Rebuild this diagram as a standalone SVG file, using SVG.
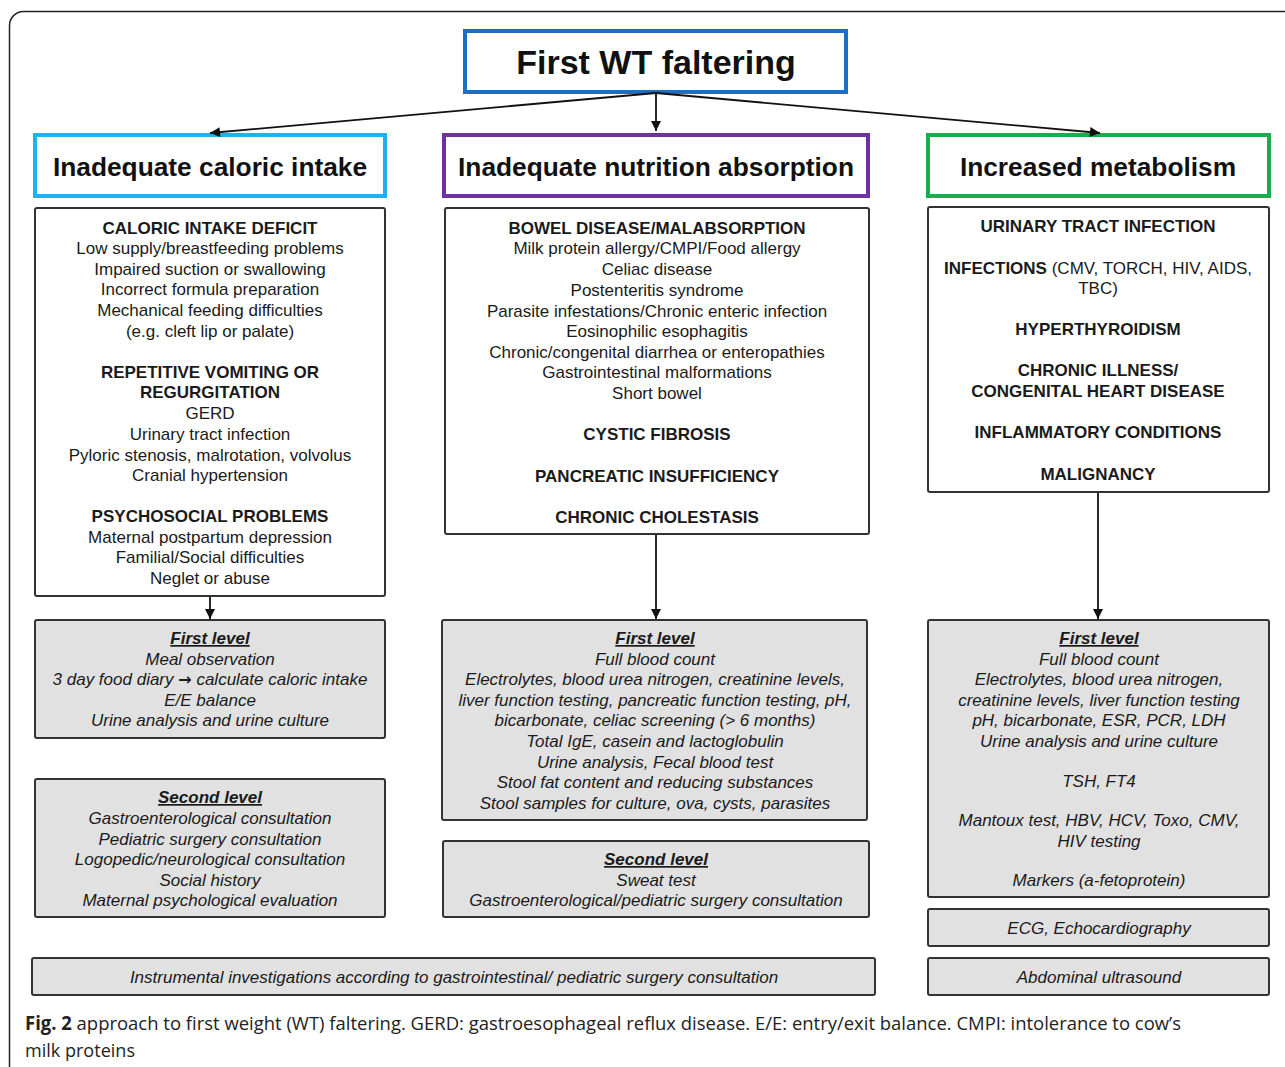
<svg xmlns="http://www.w3.org/2000/svg" width="1285" height="1067" viewBox="0 0 1285 1067">
<style>
text{font-family:"Liberation Sans",Arial,sans-serif;fill:#1a1a1a;text-anchor:middle}
.t{font-size:17px}
.b{font-weight:bold}
.i{font-style:italic}
.u{text-decoration:underline}
.head{font-size:26.3px;font-weight:bold;fill:#111}
.white{fill:#fff;stroke:#333;stroke-width:2}
.grey{fill:#e1e1e1;stroke:#333;stroke-width:2}
.conn{stroke:#111;stroke-width:1.8;fill:none}
.cap{font-family:"Open Sans","Liberation Sans",sans-serif;font-size:19px;text-anchor:start;fill:#222}
</style>
<defs>
<marker id="ah" viewBox="0 0 10 10" markerUnits="userSpaceOnUse" markerWidth="11" markerHeight="10" refX="10" refY="5" orient="auto">
<path d="M0,0 L10,5 L0,10 z" fill="#111"/>
</marker>
</defs>
<rect x="0" y="0" width="1285" height="1067" fill="#fff"/>
<rect x="9.5" y="11.5" width="1300" height="1080" rx="14" fill="none" stroke="#222" stroke-width="1.5"/>

<g id="title">
<rect x="465" y="31" width="381" height="61" fill="#fff" stroke="#1b6ec2" stroke-width="4"/>
<text x="656" y="74" style="font-size:34px;font-weight:bold;fill:#111">First WT faltering</text>
</g>

<g id="head1">
<rect x="35" y="135" width="350" height="61" fill="#fff" stroke="#1fb0ee" stroke-width="4"/>
<text class="head" x="210" y="176">Inadequate caloric intake</text>
</g>
<g id="head2">
<rect x="444" y="135" width="424" height="61" fill="#fff" stroke="#7031a0" stroke-width="4"/>
<text class="head" x="656" y="176">Inadequate nutrition absorption</text>
</g>
<g id="head3">
<rect x="928" y="135" width="341" height="61" fill="#fff" stroke="#1dac4d" stroke-width="4"/>
<text class="head" x="1098" y="176">Increased metabolism</text>
</g>

<g id="causes1">
<rect class="white" x="35" y="208" width="350" height="388" rx="2"/>
<text class="t b" x="210" y="234">CALORIC INTAKE DEFICIT</text>
<text class="t" x="210" y="254">Low supply/breastfeeding problems</text>
<text class="t" x="210" y="275">Impaired suction or swallowing</text>
<text class="t" x="210" y="295">Incorrect formula preparation</text>
<text class="t" x="210" y="316">Mechanical feeding difficulties</text>
<text class="t" x="210" y="337">(e.g. cleft lip or palate)</text>
<text class="t b" x="210" y="378">REPETITIVE VOMITING OR</text>
<text class="t b" x="210" y="398">REGURGITATION</text>
<text class="t" x="210" y="419">GERD</text>
<text class="t" x="210" y="440">Urinary tract infection</text>
<text class="t" x="210" y="461">Pyloric stenosis, malrotation, volvolus</text>
<text class="t" x="210" y="481">Cranial hypertension</text>
<text class="t b" x="210" y="522">PSYCHOSOCIAL PROBLEMS</text>
<text class="t" x="210" y="543">Maternal postpartum depression</text>
<text class="t" x="210" y="563">Familial/Social difficulties</text>
<text class="t" x="210" y="584">Neglet or abuse</text>
</g>

<g id="causes2">
<rect class="white" x="445" y="208" width="424" height="326" rx="2"/>
<text class="t b" x="657" y="234">BOWEL DISEASE/MALABSORPTION</text>
<text class="t" x="657" y="254">Milk protein allergy/CMPI/Food allergy</text>
<text class="t" x="657" y="275">Celiac disease</text>
<text class="t" x="657" y="296">Postenteritis syndrome</text>
<text class="t" x="657" y="317">Parasite infestations/Chronic enteric infection</text>
<text class="t" x="657" y="337">Eosinophilic esophagitis</text>
<text class="t" x="657" y="358">Chronic/congenital diarrhea or enteropathies</text>
<text class="t" x="657" y="378">Gastrointestinal malformations</text>
<text class="t" x="657" y="399">Short bowel</text>
<text class="t b" x="657" y="440">CYSTIC FIBROSIS</text>
<text class="t b" x="657" y="482">PANCREATIC INSUFFICIENCY</text>
<text class="t b" x="657" y="523">CHRONIC CHOLESTASIS</text>
</g>

<g id="causes3">
<rect class="white" x="928" y="207" width="341" height="285" rx="2"/>
<text class="t b" x="1098" y="232">URINARY TRACT INFECTION</text>
<text class="t" x="1098" y="274"><tspan class="b">INFECTIONS</tspan> (CMV, TORCH, HIV, AIDS,</text>
<text class="t" x="1098" y="294">TBC)</text>
<text class="t b" x="1098" y="335">HYPERTHYROIDISM</text>
<text class="t b" x="1098" y="376">CHRONIC ILLNESS/</text>
<text class="t b" x="1098" y="397">CONGENITAL HEART DISEASE</text>
<text class="t b" x="1098" y="438">INFLAMMATORY CONDITIONS</text>
<text class="t b" x="1098" y="480">MALIGNANCY</text>
</g>

<g id="first1">
<rect class="grey" x="35" y="620" width="350" height="118" rx="2"/>
<text class="t i b u" x="210" y="644">First level</text>
<text class="t i" x="210" y="665">Meal observation</text>
<text class="t i" x="210" y="685">3 day food diary <tspan style="font-family:'DejaVu Sans',sans-serif;font-style:normal;font-weight:bold;font-size:16px">→</tspan> calculate caloric intake</text>
<text class="t i" x="210" y="706">E/E balance</text>
<text class="t i" x="210" y="726">Urine analysis and urine culture</text>
</g>

<g id="second1">
<rect class="grey" x="35" y="779" width="350" height="138" rx="2"/>
<text class="t i b u" x="210" y="803">Second level</text>
<text class="t i" x="210" y="824">Gastroenterological consultation</text>
<text class="t i" x="210" y="845">Pediatric surgery consultation</text>
<text class="t i" x="210" y="865">Logopedic/neurological consultation</text>
<text class="t i" x="210" y="886">Social history</text>
<text class="t i" x="210" y="906">Maternal psychological evaluation</text>
</g>

<g id="first2">
<rect class="grey" x="442" y="620" width="425" height="200" rx="2"/>
<text class="t i b u" x="655" y="644">First level</text>
<text class="t i" x="655" y="665">Full blood count</text>
<text class="t i" x="655" y="685">Electrolytes, blood urea nitrogen, creatinine levels,</text>
<text class="t i" x="655" y="706">liver function testing, pancreatic function testing, pH,</text>
<text class="t i" x="655" y="726">bicarbonate, celiac screening (&gt; 6 months)</text>
<text class="t i" x="655" y="747">Total IgE, casein and lactoglobulin</text>
<text class="t i" x="655" y="768">Urine analysis, Fecal blood test</text>
<text class="t i" x="655" y="788">Stool fat content and reducing substances</text>
<text class="t i" x="655" y="809">Stool samples for culture, ova, cysts, parasites</text>
</g>

<g id="second2">
<rect class="grey" x="443" y="841" width="426" height="76" rx="2"/>
<text class="t i b u" x="656" y="865">Second level</text>
<text class="t i" x="656" y="886">Sweat test</text>
<text class="t i" x="656" y="906">Gastroenterological/pediatric surgery consultation</text>
</g>

<g id="first3">
<rect class="grey" x="928" y="620" width="341" height="277" rx="2"/>
<text class="t i b u" x="1099" y="644">First level</text>
<text class="t i" x="1099" y="665">Full blood count</text>
<text class="t i" x="1099" y="685">Electrolytes, blood urea nitrogen,</text>
<text class="t i" x="1099" y="706">creatinine levels, liver function testing</text>
<text class="t i" x="1099" y="726">pH, bicarbonate, ESR, PCR, LDH</text>
<text class="t i" x="1099" y="747">Urine analysis and urine culture</text>
<text class="t i" x="1099" y="787">TSH, FT4</text>
<text class="t i" x="1099" y="826">Mantoux test, HBV, HCV, Toxo, CMV,</text>
<text class="t i" x="1099" y="847">HIV testing</text>
<text class="t i" x="1099" y="886">Markers (a-fetoprotein)</text>
</g>

<g id="ecg">
<rect class="grey" x="928" y="909" width="341" height="37" rx="2"/>
<text class="t i" x="1099" y="934">ECG, Echocardiography</text>
</g>

<g id="instrumental">
<rect class="grey" x="32" y="958" width="843" height="37" rx="2"/>
<text class="t i" x="454" y="983">Instrumental investigations according to gastrointestinal/ pediatric surgery consultation</text>
</g>

<g id="ultrasound">
<rect class="grey" x="928" y="958" width="341" height="37" rx="2"/>
<text class="t i" x="1099" y="983">Abdominal ultrasound</text>
</g>

<g id="connectors">
<line class="conn" x1="656" y1="93" x2="656" y2="131" marker-end="url(#ah)"/>
<line class="conn" x1="656" y1="93" x2="210" y2="133" marker-end="url(#ah)"/>
<line class="conn" x1="656" y1="93" x2="1100" y2="133" marker-end="url(#ah)"/>
<line class="conn" x1="210" y1="597" x2="210" y2="619" marker-end="url(#ah)"/>
<line class="conn" x1="656" y1="535" x2="656" y2="619" marker-end="url(#ah)"/>
<line class="conn" x1="1098" y1="493" x2="1098" y2="619" marker-end="url(#ah)"/>
</g>

<g id="caption">
<text class="cap" x="25" y="1030" textLength="1156" lengthAdjust="spacingAndGlyphs"><tspan font-weight="bold">Fig. 2</tspan> approach to first weight (WT) faltering. GERD: gastroesophageal reflux disease. E/E: entry/exit balance. CMPI: intolerance to cow’s</text>
<text class="cap" x="25" y="1057" textLength="110" lengthAdjust="spacingAndGlyphs">milk proteins</text>
</g>
</svg>
